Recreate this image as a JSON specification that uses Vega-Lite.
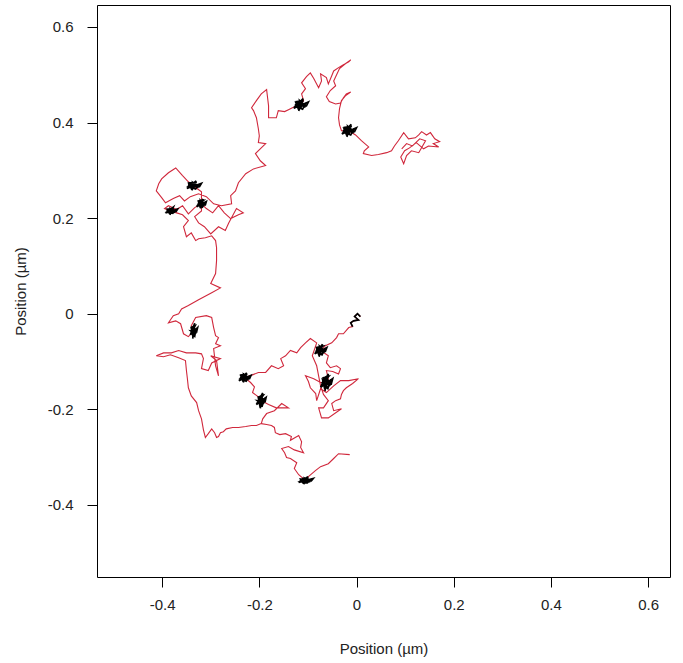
{
"$schema":"https://vega.github.io/schema/vega-lite/v6.json",
"width":573,"height":572,
"autosize":{"type":"none"},
"padding":{"left":97,"top":5,"right":13,"bottom":86},
"background":"#ffffff",
"config":{"view":{"stroke":"#000000","strokeWidth":1}},
"encoding":{
"x":{"field":"x","type":"quantitative","scale":{"domain":[-0.534,0.645],"nice":false,"zero":false},
"axis":{"title":"Position (µm)","values":[-0.4,-0.2,0,0.2,0.4,0.6],"grid":false,"domain":false,"tickSize":10,"tickColor":"#000","labelFont":"Liberation Sans","labelFontSize":15,"labelColor":"#222","labelPadding":10,"titleFont":"Liberation Sans","titleFontSize":15,"titleFontWeight":"normal","titleColor":"#222","titlePadding":29,
"labelExpr":"datum.value == 0 ? '0' : (datum.value < 0 ? '-' : '') + format(abs(datum.value), '.1f')"}},
"y":{"field":"y","type":"quantitative","scale":{"domain":[-0.551,0.646],"nice":false,"zero":false},
"axis":{"title":"Position (µm)","values":[-0.4,-0.2,0,0.2,0.4,0.6],"grid":false,"domain":false,"tickSize":10,"tickColor":"#000","labelAngle":0,"labelFont":"Liberation Sans","labelFontSize":15,"labelColor":"#222","labelPadding":14,"titleFont":"Liberation Sans","titleFontSize":15,"titleFontWeight":"normal","titleColor":"#222","titlePadding":19,
"labelExpr":"datum.value == 0 ? '0' : (datum.value < 0 ? '-' : '') + format(abs(datum.value), '.1f')"}}
},
"layer":[
{"data":{"values":[
{"s":1,"i":0,"x":-0.014,"y":-0.295},
{"s":1,"i":1,"x":-0.037,"y":-0.293},{"s":1,"i":2,"x":-0.047,"y":-0.303},{"s":1,"i":3,"x":-0.058,"y":-0.314},{"s":1,"i":4,"x":-0.074,"y":-0.320},{"s":1,"i":5,"x":-0.084,"y":-0.328},{"s":1,"i":6,"x":-0.099,"y":-0.341},{"s":1,"i":7,"x":-0.105,"y":-0.349},{"s":1,"i":8,"x":-0.119,"y":-0.337},{"s":1,"i":9,"x":-0.128,"y":-0.324},{"s":1,"i":10,"x":-0.123,"y":-0.312},
{"s":1,"i":11,"x":-0.136,"y":-0.303},{"s":1,"i":12,"x":-0.144,"y":-0.301},{"s":1,"i":13,"x":-0.148,"y":-0.291},{"s":1,"i":14,"x":-0.154,"y":-0.282},{"s":1,"i":15,"x":-0.140,"y":-0.278},{"s":1,"i":16,"x":-0.128,"y":-0.285},{"s":1,"i":16.5,"x":-0.109,"y":-0.291},{"s":1,"i":17,"x":-0.115,"y":-0.280},{"s":1,"i":18,"x":-0.113,"y":-0.268},{"s":1,"i":19,"x":-0.119,"y":-0.255},{"s":1,"i":19.5,"x":-0.136,"y":-0.265},{"s":1,"i":20,"x":-0.134,"y":-0.257},
{"s":1,"i":21,"x":-0.146,"y":-0.251},{"s":1,"i":22,"x":-0.158,"y":-0.253},{"s":1,"i":23,"x":-0.167,"y":-0.249},{"s":1,"i":24,"x":-0.169,"y":-0.238},{"s":1,"i":25,"x":-0.175,"y":-0.234},{"s":1,"i":26,"x":-0.185,"y":-0.232},{"s":1,"i":27,"x":-0.196,"y":-0.230},{"s":1,"i":28,"x":-0.206,"y":-0.234},{"s":1,"i":29,"x":-0.216,"y":-0.234},{"s":1,"i":30,"x":-0.228,"y":-0.236},
{"s":1,"i":31,"x":-0.243,"y":-0.238},{"s":1,"i":32,"x":-0.255,"y":-0.238},{"s":1,"i":33,"x":-0.268,"y":-0.241},{"s":1,"i":34,"x":-0.274,"y":-0.247},{"s":1,"i":35,"x":-0.280,"y":-0.249},{"s":1,"i":36,"x":-0.284,"y":-0.257},{"s":1,"i":37,"x":-0.288,"y":-0.259},{"s":1,"i":38,"x":-0.292,"y":-0.249},{"s":1,"i":39,"x":-0.298,"y":-0.241},{"s":1,"i":40,"x":-0.305,"y":-0.251},
{"s":1,"i":41,"x":-0.311,"y":-0.259},{"s":1,"i":42,"x":-0.315,"y":-0.243},{"s":1,"i":43,"x":-0.319,"y":-0.220},{"s":1,"i":44,"x":-0.325,"y":-0.203},{"s":1,"i":45,"x":-0.329,"y":-0.186},{"s":1,"i":46,"x":-0.340,"y":-0.172},{"s":1,"i":47,"x":-0.346,"y":-0.155},{"s":1,"i":48,"x":-0.348,"y":-0.136},{"s":1,"i":49,"x":-0.350,"y":-0.119},{"s":1,"i":50,"x":-0.352,"y":-0.098},
{"s":1,"i":51,"x":-0.366,"y":-0.092},{"s":1,"i":52,"x":-0.383,"y":-0.086},{"s":1,"i":53,"x":-0.397,"y":-0.090},{"s":1,"i":54,"x":-0.412,"y":-0.088},{"s":1,"i":55,"x":-0.397,"y":-0.082},{"s":1,"i":56,"x":-0.381,"y":-0.082},{"s":1,"i":57,"x":-0.366,"y":-0.077},{"s":1,"i":58,"x":-0.350,"y":-0.082},{"s":1,"i":59,"x":-0.331,"y":-0.082},{"s":1,"i":60,"x":-0.319,"y":-0.084},
{"s":1,"i":61,"x":-0.315,"y":-0.094},{"s":1,"i":62,"x":-0.319,"y":-0.115},{"s":1,"i":63,"x":-0.305,"y":-0.119},{"s":1,"i":64,"x":-0.298,"y":-0.103},{"s":1,"i":64.5,"x":-0.280,"y":-0.094},{"s":1,"i":65,"x":-0.300,"y":-0.088},{"s":1,"i":66,"x":-0.288,"y":-0.098},{"s":1,"i":67,"x":-0.284,"y":-0.130},{"s":1,"i":68,"x":-0.290,"y":-0.109},{"s":1,"i":69,"x":-0.294,"y":-0.073},{"s":1,"i":70,"x":-0.280,"y":-0.067},
{"s":1,"i":71,"x":-0.290,"y":-0.063},{"s":1,"i":72,"x":-0.284,"y":-0.050},{"s":1,"i":73,"x":-0.290,"y":-0.046},{"s":1,"i":74,"x":-0.294,"y":-0.029},{"s":1,"i":75,"x":-0.298,"y":-0.008},{"s":1,"i":76,"x":-0.309,"y":-0.004},{"s":1,"i":77,"x":-0.331,"y":-0.008},{"s":1,"i":78,"x":-0.340,"y":-0.025},{"s":1,"i":79,"x":-0.335,"y":-0.036},{"s":1,"i":80,"x":-0.346,"y":-0.048},
{"s":1,"i":81,"x":-0.356,"y":-0.042},{"s":1,"i":82,"x":-0.362,"y":-0.021},{"s":1,"i":83,"x":-0.372,"y":-0.015},{"s":1,"i":84,"x":-0.387,"y":-0.019},{"s":1,"i":85,"x":-0.377,"y":-0.004},{"s":1,"i":86,"x":-0.366,"y":0.000},{"s":1,"i":87,"x":-0.360,"y":0.010},{"s":1,"i":88,"x":-0.346,"y":0.017},{"s":1,"i":89,"x":-0.325,"y":0.029},{"s":1,"i":90,"x":-0.298,"y":0.044},
{"s":1,"i":91,"x":-0.280,"y":0.054},{"s":1,"i":92,"x":-0.300,"y":0.063},{"s":1,"i":93,"x":-0.290,"y":0.084},{"s":1,"i":94,"x":-0.288,"y":0.111},{"s":1,"i":95,"x":-0.288,"y":0.138},{"s":1,"i":96,"x":-0.290,"y":0.153},{"s":1,"i":97,"x":-0.298,"y":0.163},{"s":1,"i":98,"x":-0.311,"y":0.159},{"s":1,"i":99,"x":-0.325,"y":0.157},{"s":1,"i":100,"x":-0.331,"y":0.153},
{"s":1,"i":101,"x":-0.340,"y":0.169},{"s":1,"i":102,"x":-0.350,"y":0.161},{"s":1,"i":103,"x":-0.356,"y":0.182},{"s":1,"i":104,"x":-0.346,"y":0.195},{"s":1,"i":105,"x":-0.358,"y":0.207},{"s":1,"i":106,"x":-0.370,"y":0.211},{"s":1,"i":107,"x":-0.383,"y":0.215},{"s":1,"i":108,"x":-0.395,"y":0.220},{"s":1,"i":109,"x":-0.387,"y":0.226},{"s":1,"i":110,"x":-0.370,"y":0.218},
{"s":1,"i":111,"x":-0.358,"y":0.226},{"s":1,"i":112,"x":-0.346,"y":0.209},{"s":1,"i":113,"x":-0.333,"y":0.222},{"s":1,"i":114,"x":-0.319,"y":0.230},{"s":1,"i":115,"x":-0.309,"y":0.220},{"s":1,"i":116,"x":-0.296,"y":0.211},{"s":1,"i":117,"x":-0.284,"y":0.226},{"s":1,"i":118,"x":-0.272,"y":0.211},{"s":1,"i":119,"x":-0.259,"y":0.199},{"s":1,"i":120,"x":-0.243,"y":0.207},
{"s":1,"i":121,"x":-0.233,"y":0.211},{"s":1,"i":122,"x":-0.247,"y":0.220},{"s":1,"i":123,"x":-0.263,"y":0.190},{"s":1,"i":124,"x":-0.270,"y":0.174},{"s":1,"i":125,"x":-0.284,"y":0.182},{"s":1,"i":126,"x":-0.300,"y":0.167},{"s":1,"i":127,"x":-0.313,"y":0.182},{"s":1,"i":128,"x":-0.325,"y":0.190},{"s":1,"i":129,"x":-0.333,"y":0.203},{"s":1,"i":130,"x":-0.319,"y":0.215},
{"s":1,"i":131,"x":-0.319,"y":0.241},{"s":1,"i":132,"x":-0.319,"y":0.255},{"s":1,"i":133,"x":-0.331,"y":0.264},{"s":1,"i":134,"x":-0.335,"y":0.268},{"s":1,"i":135,"x":-0.346,"y":0.276},{"s":1,"i":136,"x":-0.358,"y":0.289},{"s":1,"i":137,"x":-0.372,"y":0.305},{"s":1,"i":138,"x":-0.387,"y":0.295},{"s":1,"i":139,"x":-0.401,"y":0.282},{"s":1,"i":140,"x":-0.407,"y":0.272},
{"s":1,"i":141,"x":-0.412,"y":0.257},{"s":1,"i":142,"x":-0.401,"y":0.243},{"s":1,"i":143,"x":-0.393,"y":0.232},{"s":1,"i":144,"x":-0.377,"y":0.241},{"s":1,"i":145,"x":-0.364,"y":0.247},{"s":1,"i":146,"x":-0.354,"y":0.236},{"s":1,"i":147,"x":-0.342,"y":0.245},{"s":1,"i":148,"x":-0.325,"y":0.251},{"s":1,"i":149,"x":-0.309,"y":0.245},{"s":1,"i":150,"x":-0.294,"y":0.230},
{"s":1,"i":151,"x":-0.278,"y":0.226},{"s":1,"i":152,"x":-0.257,"y":0.230},{"s":1,"i":153,"x":-0.259,"y":0.247},{"s":1,"i":154,"x":-0.249,"y":0.257},{"s":1,"i":155,"x":-0.243,"y":0.274},{"s":1,"i":156,"x":-0.228,"y":0.293},{"s":1,"i":157,"x":-0.212,"y":0.303},{"s":1,"i":158,"x":-0.187,"y":0.310},{"s":1,"i":159,"x":-0.198,"y":0.320},{"s":1,"i":160,"x":-0.208,"y":0.335},
{"s":1,"i":161,"x":-0.196,"y":0.347},{"s":1,"i":162,"x":-0.187,"y":0.356},{"s":1,"i":163,"x":-0.202,"y":0.358},{"s":1,"i":164,"x":-0.200,"y":0.372},{"s":1,"i":165,"x":-0.202,"y":0.387},{"s":1,"i":166,"x":-0.206,"y":0.410},{"s":1,"i":167,"x":-0.212,"y":0.425},{"s":1,"i":168,"x":-0.216,"y":0.431},{"s":1,"i":169,"x":-0.206,"y":0.446},{"s":1,"i":170,"x":-0.196,"y":0.460},
{"s":1,"i":171,"x":-0.185,"y":0.469},{"s":1,"i":172,"x":-0.183,"y":0.452},{"s":1,"i":173,"x":-0.181,"y":0.435},{"s":1,"i":174,"x":-0.181,"y":0.410},{"s":1,"i":175,"x":-0.165,"y":0.410},{"s":1,"i":176,"x":-0.161,"y":0.425},{"s":1,"i":177,"x":-0.148,"y":0.423},{"s":1,"i":178,"x":-0.140,"y":0.427},{"s":1,"i":179,"x":-0.128,"y":0.433},{"s":1,"i":180,"x":-0.115,"y":0.437},
{"s":1,"i":181,"x":-0.109,"y":0.446},{"s":1,"i":182,"x":-0.113,"y":0.460},{"s":1,"i":183,"x":-0.105,"y":0.471},{"s":1,"i":184,"x":-0.113,"y":0.483},{"s":1,"i":185,"x":-0.103,"y":0.496},{"s":1,"i":186,"x":-0.095,"y":0.504},{"s":1,"i":187,"x":-0.088,"y":0.492},{"s":1,"i":188,"x":-0.078,"y":0.473},{"s":1,"i":189,"x":-0.072,"y":0.487},{"s":1,"i":190,"x":-0.074,"y":0.502},
{"s":1,"i":191,"x":-0.062,"y":0.494},{"s":1,"i":192,"x":-0.058,"y":0.481},{"s":1,"i":193,"x":-0.051,"y":0.498},{"s":1,"i":194,"x":-0.047,"y":0.508},{"s":1,"i":195,"x":-0.037,"y":0.515},{"s":1,"i":196,"x":-0.027,"y":0.521},{"s":1,"i":197,"x":-0.016,"y":0.527},{"s":1,"i":198,"x":-0.012,"y":0.531},{"s":1,"i":199,"x":-0.023,"y":0.523},{"s":1,"i":200,"x":-0.035,"y":0.513},
{"s":1,"i":201,"x":-0.041,"y":0.500},{"s":1,"i":202,"x":-0.047,"y":0.487},{"s":1,"i":203,"x":-0.043,"y":0.477},{"s":1,"i":204,"x":-0.054,"y":0.467},{"s":1,"i":205,"x":-0.062,"y":0.454},{"s":1,"i":206,"x":-0.056,"y":0.444},{"s":1,"i":207,"x":-0.043,"y":0.439},{"s":1,"i":208,"x":-0.033,"y":0.441},{"s":1,"i":209,"x":-0.027,"y":0.452},{"s":1,"i":210,"x":-0.021,"y":0.460},
{"s":1,"i":211,"x":-0.012,"y":0.464},{"s":1,"i":212,"x":-0.023,"y":0.456},{"s":1,"i":213,"x":-0.031,"y":0.446},{"s":1,"i":214,"x":-0.035,"y":0.429},{"s":1,"i":215,"x":-0.037,"y":0.410},{"s":1,"i":216,"x":-0.035,"y":0.395},{"s":1,"i":217,"x":-0.031,"y":0.383},{"s":1,"i":218,"x":-0.016,"y":0.383},{"s":1,"i":219,"x":-0.002,"y":0.374},{"s":1,"i":220,"x":0.010,"y":0.362},
{"s":1,"i":221,"x":0.025,"y":0.349},{"s":1,"i":222,"x":0.016,"y":0.341},{"s":1,"i":223,"x":0.014,"y":0.335},{"s":1,"i":224,"x":0.031,"y":0.331},{"s":1,"i":225,"x":0.045,"y":0.333},{"s":1,"i":226,"x":0.062,"y":0.337},{"s":1,"i":227,"x":0.072,"y":0.341},{"s":1,"i":228,"x":0.078,"y":0.351},{"s":1,"i":229,"x":0.086,"y":0.362},{"s":1,"i":230,"x":0.097,"y":0.379},
{"s":1,"i":231,"x":0.107,"y":0.366},{"s":1,"i":232,"x":0.121,"y":0.368},{"s":1,"i":233,"x":0.128,"y":0.374},{"s":1,"i":234,"x":0.134,"y":0.381},{"s":1,"i":235,"x":0.144,"y":0.374},{"s":1,"i":236,"x":0.152,"y":0.379},{"s":1,"i":237,"x":0.161,"y":0.366},{"s":1,"i":238,"x":0.171,"y":0.360},{"s":1,"i":239,"x":0.158,"y":0.356},{"s":1,"i":240,"x":0.169,"y":0.349},
{"s":1,"i":241,"x":0.148,"y":0.351},{"s":1,"i":242,"x":0.138,"y":0.345},{"s":1,"i":243,"x":0.123,"y":0.358},{"s":1,"i":244,"x":0.109,"y":0.347},{"s":1,"i":245,"x":0.099,"y":0.341},{"s":1,"i":246,"x":0.091,"y":0.328},{"s":1,"i":247,"x":0.097,"y":0.314},{"s":1,"i":248,"x":0.103,"y":0.331},{"s":1,"i":249,"x":0.113,"y":0.341},{"s":1,"i":250,"x":0.128,"y":0.337},
{"s":1,"i":251,"x":0.142,"y":0.362},{"s":1,"i":252,"x":0.130,"y":0.366},{"s":1,"i":253,"x":0.115,"y":0.351},{"s":1,"i":254,"x":0.103,"y":0.356},{"s":1,"i":255,"x":0.093,"y":0.345},
{"s":2,"i":1,"x":0.008,"y":-0.006},{"s":2,"i":2,"x":0.002,"y":0.000},{"s":2,"i":3,"x":-0.004,"y":-0.006},{"s":2,"i":4,"x":0.004,"y":-0.013},{"s":2,"i":5,"x":-0.006,"y":-0.015},{"s":2,"i":6,"x":-0.012,"y":-0.019},{"s":2,"i":7,"x":-0.008,"y":-0.027},{"s":2,"i":8,"x":-0.016,"y":-0.029},{"s":2,"i":9,"x":-0.027,"y":-0.042},{"s":2,"i":10,"x":-0.037,"y":-0.042},
{"s":2,"i":11,"x":-0.041,"y":-0.050},{"s":2,"i":12,"x":-0.051,"y":-0.061},{"s":2,"i":13,"x":-0.064,"y":-0.067},{"s":2,"i":14,"x":-0.074,"y":-0.077},{"s":2,"i":15,"x":-0.058,"y":-0.088},{"s":2,"i":16,"x":-0.062,"y":-0.103},{"s":2,"i":17,"x":-0.054,"y":-0.113},{"s":2,"i":18,"x":-0.041,"y":-0.109},{"s":2,"i":19,"x":-0.033,"y":-0.115},{"s":2,"i":20,"x":-0.037,"y":-0.126},
{"s":2,"i":21,"x":-0.049,"y":-0.121},{"s":2,"i":22,"x":-0.062,"y":-0.119},{"s":2,"i":23,"x":-0.058,"y":-0.136},{"s":2,"i":24,"x":-0.062,"y":-0.144},{"s":2,"i":25,"x":-0.074,"y":-0.144},{"s":2,"i":26,"x":-0.088,"y":-0.136},{"s":2,"i":27,"x":-0.105,"y":-0.130},{"s":2,"i":28,"x":-0.099,"y":-0.142},{"s":2,"i":29,"x":-0.095,"y":-0.155},{"s":2,"i":30,"x":-0.084,"y":-0.167},{"s":2,"i":30.5,"x":-0.082,"y":-0.182},
{"s":2,"i":31,"x":-0.074,"y":-0.157},{"s":2,"i":32,"x":-0.062,"y":-0.165},{"s":2,"i":33,"x":-0.047,"y":-0.151},{"s":2,"i":34,"x":-0.033,"y":-0.140},{"s":2,"i":35,"x":-0.016,"y":-0.140},{"s":2,"i":36,"x":0.004,"y":-0.136},{"s":2,"i":37,"x":-0.008,"y":-0.146},{"s":2,"i":38,"x":-0.021,"y":-0.155},{"s":2,"i":39,"x":-0.027,"y":-0.161},{"s":2,"i":40,"x":-0.031,"y":-0.169},
{"s":2,"i":41,"x":-0.033,"y":-0.178},{"s":2,"i":42,"x":-0.043,"y":-0.182},{"s":2,"i":43,"x":-0.051,"y":-0.188},{"s":2,"i":44,"x":-0.047,"y":-0.203},{"s":2,"i":44.5,"x":-0.031,"y":-0.199},{"s":2,"i":45,"x":-0.058,"y":-0.218},{"s":2,"i":46,"x":-0.072,"y":-0.218},{"s":2,"i":47,"x":-0.078,"y":-0.197},{"s":2,"i":48,"x":-0.068,"y":-0.197},{"s":2,"i":49,"x":-0.058,"y":-0.182},{"s":2,"i":50,"x":-0.068,"y":-0.169},
{"s":2,"i":51,"x":-0.074,"y":-0.151},{"s":2,"i":52,"x":-0.078,"y":-0.130},{"s":2,"i":53,"x":-0.082,"y":-0.109},{"s":2,"i":54,"x":-0.091,"y":-0.088},{"s":2,"i":55,"x":-0.086,"y":-0.073},{"s":2,"i":56,"x":-0.082,"y":-0.061},{"s":2,"i":57,"x":-0.095,"y":-0.052},{"s":2,"i":58,"x":-0.105,"y":-0.061},{"s":2,"i":59,"x":-0.115,"y":-0.071},{"s":2,"i":60,"x":-0.123,"y":-0.082},
{"s":2,"i":61,"x":-0.136,"y":-0.077},{"s":2,"i":62,"x":-0.146,"y":-0.088},{"s":2,"i":63,"x":-0.156,"y":-0.094},{"s":2,"i":64,"x":-0.150,"y":-0.109},{"s":2,"i":65,"x":-0.161,"y":-0.115},{"s":2,"i":66,"x":-0.175,"y":-0.109},{"s":2,"i":67,"x":-0.187,"y":-0.123},{"s":2,"i":68,"x":-0.202,"y":-0.123},{"s":2,"i":69,"x":-0.214,"y":-0.128},{"s":2,"i":70,"x":-0.230,"y":-0.134},
{"s":2,"i":71,"x":-0.218,"y":-0.144},{"s":2,"i":72,"x":-0.210,"y":-0.153},{"s":2,"i":73,"x":-0.214,"y":-0.165},{"s":2,"i":74,"x":-0.202,"y":-0.174},{"s":2,"i":75,"x":-0.196,"y":-0.182},{"s":2,"i":76,"x":-0.181,"y":-0.190},{"s":2,"i":77,"x":-0.165,"y":-0.197},{"s":2,"i":78,"x":-0.140,"y":-0.197},{"s":2,"i":79,"x":-0.154,"y":-0.188},{"s":2,"i":80,"x":-0.169,"y":-0.203},
{"s":2,"i":81,"x":-0.185,"y":-0.209},{"s":2,"i":82,"x":-0.193,"y":-0.220},{"s":2,"i":83,"x":-0.196,"y":-0.230}
]},
"mark":{"type":"line","color":"#d0283c","strokeWidth":1.1},
"encoding":{"detail":{"field":"s","type":"nominal"},"order":{"field":"i","type":"quantitative"}}},
{"data":{"values":[
{"c":"A","i":1,"x":-0.016,"y":0.383},{"c":"A","i":2,"x":-0.006,"y":0.378},{"c":"A","i":3,"x":-0.023,"y":0.390},{"c":"A","i":4,"x":-0.010,"y":0.392},{"c":"A","i":5,"x":-0.027,"y":0.380},{"c":"A","i":6,"x":-0.012,"y":0.374},{"c":"A","i":7,"x":-0.005,"y":0.387},{"c":"A","i":8,"x":-0.021,"y":0.375},{"c":"A","i":9,"x":-0.026,"y":0.388},{"c":"A","i":10,"x":-0.009,"y":0.384},{"c":"A","i":11,"x":-0.018,"y":0.392},{"c":"A","i":12,"x":-0.015,"y":0.377},{"c":"A","i":13,"x":-0.028,"y":0.383},{"c":"A","i":14,"x":-0.004,"y":0.381},{"c":"A","i":15,"x":0.000,"y":0.389},{"c":"A","i":16,"x":-0.030,"y":0.376},{"c":"A","i":17,"x":-0.011,"y":0.396},{"c":"A","i":18,"x":-0.020,"y":0.370},
{"c":"B","i":1,"x":-0.115,"y":0.437},{"c":"B","i":2,"x":-0.105,"y":0.432},{"c":"B","i":3,"x":-0.122,"y":0.444},{"c":"B","i":4,"x":-0.109,"y":0.446},{"c":"B","i":5,"x":-0.126,"y":0.434},{"c":"B","i":6,"x":-0.111,"y":0.428},{"c":"B","i":7,"x":-0.104,"y":0.441},{"c":"B","i":8,"x":-0.120,"y":0.429},{"c":"B","i":9,"x":-0.125,"y":0.442},{"c":"B","i":10,"x":-0.108,"y":0.438},{"c":"B","i":11,"x":-0.117,"y":0.446},{"c":"B","i":12,"x":-0.114,"y":0.431},{"c":"B","i":13,"x":-0.127,"y":0.437},{"c":"B","i":14,"x":-0.103,"y":0.435},{"c":"B","i":15,"x":-0.099,"y":0.443},{"c":"B","i":16,"x":-0.129,"y":0.430},{"c":"B","i":17,"x":-0.110,"y":0.450},{"c":"B","i":18,"x":-0.119,"y":0.424},
{"c":"C","i":1,"x":-0.335,"y":0.268},{"c":"C","i":2,"x":-0.325,"y":0.264},{"c":"C","i":3,"x":-0.342,"y":0.274},{"c":"C","i":4,"x":-0.329,"y":0.275},{"c":"C","i":5,"x":-0.346,"y":0.266},{"c":"C","i":6,"x":-0.331,"y":0.261},{"c":"C","i":7,"x":-0.324,"y":0.271},{"c":"C","i":8,"x":-0.340,"y":0.262},{"c":"C","i":9,"x":-0.345,"y":0.272},{"c":"C","i":10,"x":-0.328,"y":0.269},{"c":"C","i":11,"x":-0.337,"y":0.275},{"c":"C","i":12,"x":-0.334,"y":0.263},{"c":"C","i":13,"x":-0.347,"y":0.268},{"c":"C","i":14,"x":-0.323,"y":0.266},{"c":"C","i":15,"x":-0.319,"y":0.273},{"c":"C","i":16,"x":-0.349,"y":0.262},{"c":"C","i":17,"x":-0.330,"y":0.278},{"c":"C","i":18,"x":-0.339,"y":0.258},
{"c":"D","i":1,"x":-0.319,"y":0.230},{"c":"D","i":2,"x":-0.313,"y":0.226},{"c":"D","i":3,"x":-0.324,"y":0.236},{"c":"D","i":4,"x":-0.315,"y":0.237},{"c":"D","i":5,"x":-0.326,"y":0.228},{"c":"D","i":6,"x":-0.317,"y":0.223},{"c":"D","i":7,"x":-0.312,"y":0.233},{"c":"D","i":8,"x":-0.322,"y":0.224},{"c":"D","i":9,"x":-0.325,"y":0.234},{"c":"D","i":10,"x":-0.314,"y":0.231},{"c":"D","i":11,"x":-0.321,"y":0.237},{"c":"D","i":12,"x":-0.318,"y":0.225},{"c":"D","i":13,"x":-0.327,"y":0.230},{"c":"D","i":14,"x":-0.311,"y":0.228},{"c":"D","i":15,"x":-0.309,"y":0.235},{"c":"D","i":16,"x":-0.329,"y":0.224},{"c":"D","i":17,"x":-0.316,"y":0.240},{"c":"D","i":18,"x":-0.321,"y":0.220},
{"c":"E","i":1,"x":-0.381,"y":0.215},{"c":"E","i":2,"x":-0.373,"y":0.212},{"c":"E","i":3,"x":-0.387,"y":0.219},{"c":"E","i":4,"x":-0.376,"y":0.220},{"c":"E","i":5,"x":-0.390,"y":0.213},{"c":"E","i":6,"x":-0.378,"y":0.210},{"c":"E","i":7,"x":-0.372,"y":0.217},{"c":"E","i":8,"x":-0.385,"y":0.210},{"c":"E","i":9,"x":-0.389,"y":0.218},{"c":"E","i":10,"x":-0.375,"y":0.216},{"c":"E","i":11,"x":-0.383,"y":0.220},{"c":"E","i":12,"x":-0.380,"y":0.211},{"c":"E","i":13,"x":-0.391,"y":0.215},{"c":"E","i":14,"x":-0.371,"y":0.214},{"c":"E","i":15,"x":-0.368,"y":0.219},{"c":"E","i":16,"x":-0.393,"y":0.211},{"c":"E","i":17,"x":-0.377,"y":0.223},{"c":"E","i":18,"x":-0.384,"y":0.207},
{"c":"F","i":1,"x":-0.335,"y":-0.036},{"c":"F","i":2,"x":-0.330,"y":-0.042},{"c":"F","i":3,"x":-0.339,"y":-0.028},{"c":"F","i":4,"x":-0.332,"y":-0.025},{"c":"F","i":5,"x":-0.340,"y":-0.040},{"c":"F","i":6,"x":-0.333,"y":-0.047},{"c":"F","i":7,"x":-0.330,"y":-0.031},{"c":"F","i":8,"x":-0.337,"y":-0.046},{"c":"F","i":9,"x":-0.340,"y":-0.030},{"c":"F","i":10,"x":-0.331,"y":-0.035},{"c":"F","i":11,"x":-0.336,"y":-0.025},{"c":"F","i":12,"x":-0.334,"y":-0.043},{"c":"F","i":13,"x":-0.341,"y":-0.036},{"c":"F","i":14,"x":-0.329,"y":-0.038},{"c":"F","i":15,"x":-0.327,"y":-0.029},{"c":"F","i":16,"x":-0.342,"y":-0.044},{"c":"F","i":17,"x":-0.333,"y":-0.020},{"c":"F","i":18,"x":-0.337,"y":-0.052},
{"c":"H","i":1,"x":-0.074,"y":-0.077},{"c":"H","i":2,"x":-0.066,"y":-0.082},{"c":"H","i":3,"x":-0.080,"y":-0.070},{"c":"H","i":4,"x":-0.069,"y":-0.068},{"c":"H","i":5,"x":-0.083,"y":-0.080},{"c":"H","i":6,"x":-0.071,"y":-0.086},{"c":"H","i":7,"x":-0.065,"y":-0.073},{"c":"H","i":8,"x":-0.078,"y":-0.085},{"c":"H","i":9,"x":-0.082,"y":-0.072},{"c":"H","i":10,"x":-0.068,"y":-0.076},{"c":"H","i":11,"x":-0.076,"y":-0.068},{"c":"H","i":12,"x":-0.073,"y":-0.083},{"c":"H","i":13,"x":-0.084,"y":-0.077},{"c":"H","i":14,"x":-0.064,"y":-0.079},{"c":"H","i":15,"x":-0.061,"y":-0.071},{"c":"H","i":16,"x":-0.086,"y":-0.084},{"c":"H","i":17,"x":-0.070,"y":-0.064},{"c":"H","i":18,"x":-0.077,"y":-0.090},
{"c":"I","i":1,"x":-0.062,"y":-0.144},{"c":"I","i":2,"x":-0.054,"y":-0.151},{"c":"I","i":3,"x":-0.068,"y":-0.134},{"c":"I","i":4,"x":-0.057,"y":-0.131},{"c":"I","i":5,"x":-0.071,"y":-0.148},{"c":"I","i":6,"x":-0.059,"y":-0.157},{"c":"I","i":7,"x":-0.053,"y":-0.138},{"c":"I","i":8,"x":-0.066,"y":-0.155},{"c":"I","i":9,"x":-0.070,"y":-0.137},{"c":"I","i":10,"x":-0.056,"y":-0.143},{"c":"I","i":11,"x":-0.064,"y":-0.131},{"c":"I","i":12,"x":-0.061,"y":-0.152},{"c":"I","i":13,"x":-0.072,"y":-0.144},{"c":"I","i":14,"x":-0.052,"y":-0.147},{"c":"I","i":15,"x":-0.049,"y":-0.136},{"c":"I","i":16,"x":-0.074,"y":-0.154},{"c":"I","i":17,"x":-0.058,"y":-0.126},{"c":"I","i":18,"x":-0.065,"y":-0.162},
{"c":"J","i":1,"x":-0.230,"y":-0.134},{"c":"J","i":2,"x":-0.222,"y":-0.138},{"c":"J","i":3,"x":-0.236,"y":-0.128},{"c":"J","i":4,"x":-0.225,"y":-0.127},{"c":"J","i":5,"x":-0.239,"y":-0.136},{"c":"J","i":6,"x":-0.227,"y":-0.141},{"c":"J","i":7,"x":-0.221,"y":-0.131},{"c":"J","i":8,"x":-0.234,"y":-0.140},{"c":"J","i":9,"x":-0.238,"y":-0.130},{"c":"J","i":10,"x":-0.224,"y":-0.133},{"c":"J","i":11,"x":-0.232,"y":-0.127},{"c":"J","i":12,"x":-0.229,"y":-0.139},{"c":"J","i":13,"x":-0.240,"y":-0.134},{"c":"J","i":14,"x":-0.220,"y":-0.136},{"c":"J","i":15,"x":-0.217,"y":-0.129},{"c":"J","i":16,"x":-0.242,"y":-0.140},{"c":"J","i":17,"x":-0.226,"y":-0.124},{"c":"J","i":18,"x":-0.233,"y":-0.144},
{"c":"K","i":1,"x":-0.196,"y":-0.182},{"c":"K","i":2,"x":-0.190,"y":-0.188},{"c":"K","i":3,"x":-0.201,"y":-0.174},{"c":"K","i":4,"x":-0.192,"y":-0.171},{"c":"K","i":5,"x":-0.203,"y":-0.186},{"c":"K","i":6,"x":-0.194,"y":-0.193},{"c":"K","i":7,"x":-0.189,"y":-0.177},{"c":"K","i":8,"x":-0.199,"y":-0.192},{"c":"K","i":9,"x":-0.202,"y":-0.176},{"c":"K","i":10,"x":-0.191,"y":-0.181},{"c":"K","i":11,"x":-0.198,"y":-0.171},{"c":"K","i":12,"x":-0.195,"y":-0.189},{"c":"K","i":13,"x":-0.204,"y":-0.182},{"c":"K","i":14,"x":-0.188,"y":-0.184},{"c":"K","i":15,"x":-0.186,"y":-0.175},{"c":"K","i":16,"x":-0.206,"y":-0.190},{"c":"K","i":17,"x":-0.193,"y":-0.166},{"c":"K","i":18,"x":-0.198,"y":-0.198},
{"c":"G","i":1,"x":-0.105,"y":-0.349},{"c":"G","i":2,"x":-0.095,"y":-0.352},{"c":"G","i":3,"x":-0.112,"y":-0.345},{"c":"G","i":4,"x":-0.099,"y":-0.344},{"c":"G","i":5,"x":-0.116,"y":-0.351},{"c":"G","i":6,"x":-0.101,"y":-0.354},{"c":"G","i":7,"x":-0.094,"y":-0.347},{"c":"G","i":8,"x":-0.110,"y":-0.354},{"c":"G","i":9,"x":-0.115,"y":-0.346},{"c":"G","i":10,"x":-0.098,"y":-0.348},{"c":"G","i":11,"x":-0.107,"y":-0.344},{"c":"G","i":12,"x":-0.104,"y":-0.353},{"c":"G","i":13,"x":-0.117,"y":-0.349},{"c":"G","i":14,"x":-0.093,"y":-0.350},{"c":"G","i":15,"x":-0.089,"y":-0.345},{"c":"G","i":16,"x":-0.119,"y":-0.353},{"c":"G","i":17,"x":-0.100,"y":-0.341},{"c":"G","i":18,"x":-0.109,"y":-0.357},
{"c":"S","i":1,"x":0.008,"y":-0.006},{"c":"S","i":2,"x":0.002,"y":0.000},{"c":"S","i":3,"x":-0.004,"y":-0.006},{"c":"S","i":4,"x":0.004,"y":-0.013},{"c":"S","i":5,"x":-0.006,"y":-0.015},{"c":"S","i":6,"x":-0.012,"y":-0.019},{"c":"S","i":7,"x":-0.008,"y":-0.027}
]},
"mark":{"type":"line","color":"#000000","strokeWidth":1.7},
"encoding":{"detail":{"field":"c","type":"nominal"},"order":{"field":"i","type":"quantitative"}}}
]
}
